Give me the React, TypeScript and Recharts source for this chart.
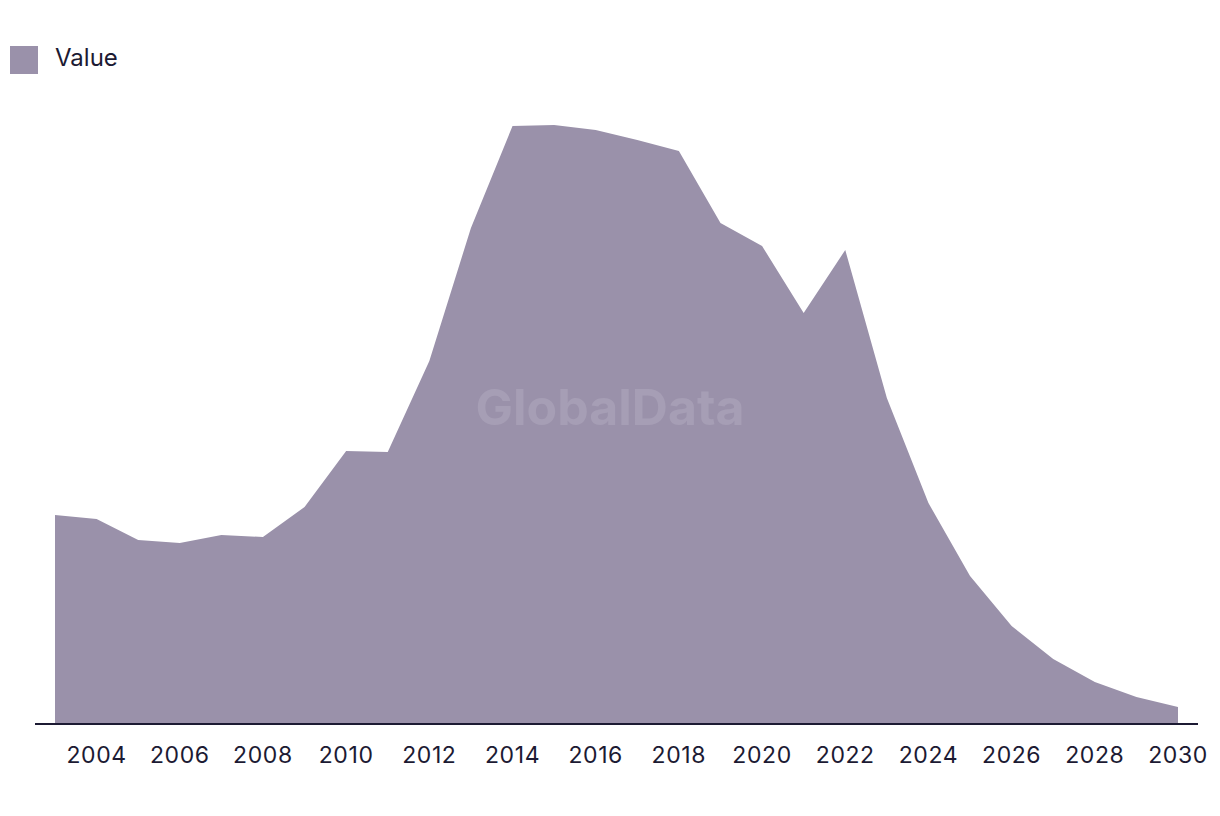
import { Area, AreaChart, XAxis, YAxis } from "recharts";

const years = [
  2003, 2004, 2005, 2006, 2007, 2008, 2009, 2010, 2011, 2012, 2013, 2014, 2015, 2016,
  2017, 2018, 2019, 2020, 2021, 2022, 2023, 2024, 2025, 2026, 2027, 2028, 2029, 2030,
];
const values = [
  209, 205, 184, 181, 189, 187, 217, 273, 272, 363, 496, 598, 599, 594,
  584, 573, 501, 478, 411, 474, 326, 221, 148, 98, 65, 42, 27, 17,
];
const tickYears = [2004, 2006, 2008, 2010, 2012, 2014, 2016, 2018, 2020, 2022, 2024, 2026, 2028, 2030];

const data = years.map((year, i) => ({ year, value: values[i] }));

const FILL = "#9a91aa";
const INK = "#1c1a33";
const FONT = "Inter, 'Noto Sans', sans-serif";

export default function App() {
  return (
    <div style={{ position: "absolute", left: 0, top: 0, width: 1220, height: 816, background: "#fff" }}>
      <AreaChart width={1220} height={816} data={data} margin={{ top: 124, right: 22, bottom: 32, left: 35 }}>
        <XAxis
          dataKey="year"
          type="number"
          domain={[2003, 2030]}
          ticks={tickYears}
          padding={{ left: 20, right: 20 }}
          tickLine={false}
          tickMargin={17}
          height={60}
          axisLine={{ stroke: INK, strokeWidth: 2 }}
          tick={{ fill: INK, fontSize: 23, fontFamily: FONT, letterSpacing: 0.6 }}
        />
        <YAxis hide domain={[0, 600]} />
        <Area
          type="linear"
          dataKey="value"
          stroke="none"
          fill={FILL}
          fillOpacity={1}
          isAnimationActive={false}
        />
      </AreaChart>
      <div
        style={{
          position: "absolute",
          left: 10,
          top: 46,
          height: 28,
          display: "flex",
          alignItems: "center",
          fontFamily: FONT,
          fontSize: 24,
          lineHeight: "24px",
          color: INK,
        }}
      >
        <span style={{ width: 28, height: 28, background: FILL, display: "inline-block", marginRight: 17 }} />
        <span style={{ position: "relative", top: -2 }}>Value</span>
      </div>
      <div
        style={{
          position: "absolute",
          left: 0,
          width: 1220,
          top: 377,
          textAlign: "center",
          fontFamily: FONT,
          fontWeight: 700,
          fontSize: 50,
          color: "#a69eb5",
          pointerEvents: "none",
        }}
      >
        GlobalData
      </div>
    </div>
  );
}
